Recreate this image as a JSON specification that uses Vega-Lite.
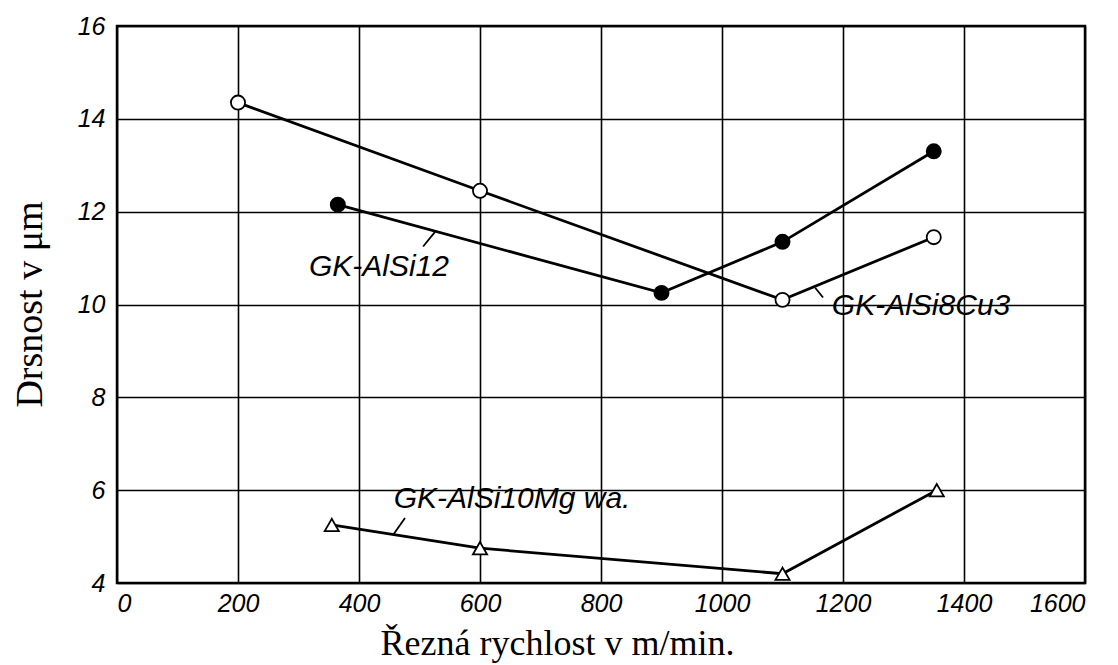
{
  "$schema": "https://vega.github.io/schema/vega-lite/v6.json",
  "width": 968,
  "height": 557,
  "autosize": {"type": "none"},
  "padding": {"left": 117, "top": 26, "right": 33, "bottom": 82},
  "background": "white",
  "config": {
    "view": {"stroke": "black", "strokeWidth": 2.5},
    "axis": {
      "labelFont": "Liberation Sans",
      "labelFontStyle": "italic",
      "labelFontSize": 25,
      "labelColor": "black",
      "ticks": false,
      "domain": false,
      "grid": true,
      "gridColor": "black",
      "gridWidth": 1.6,
      "gridOpacity": 1,
      "titleFont": "Liberation Serif",
      "titleFontSize": 38,
      "titleFontWeight": "normal",
      "titleColor": "black"
    }
  },
  "datasets": {
    "series": [
      {"alloy": "GK-AlSi8Cu3", "v": 200, "ra": 14.35},
      {"alloy": "GK-AlSi8Cu3", "v": 600, "ra": 12.45},
      {"alloy": "GK-AlSi8Cu3", "v": 1100, "ra": 10.1},
      {"alloy": "GK-AlSi8Cu3", "v": 1350, "ra": 11.45},
      {"alloy": "GK-AlSi12", "v": 365, "ra": 12.15},
      {"alloy": "GK-AlSi12", "v": 900, "ra": 10.25},
      {"alloy": "GK-AlSi12", "v": 1100, "ra": 11.35},
      {"alloy": "GK-AlSi12", "v": 1350, "ra": 13.3},
      {"alloy": "GK-AlSi10Mg wa.", "v": 355, "ra": 5.25},
      {"alloy": "GK-AlSi10Mg wa.", "v": 600, "ra": 4.75},
      {"alloy": "GK-AlSi10Mg wa.", "v": 1100, "ra": 4.2},
      {"alloy": "GK-AlSi10Mg wa.", "v": 1355, "ra": 6.0}
    ],
    "labels": [
      {"text": "GK-AlSi12", "x": 433, "y": 10.8},
      {"text": "GK-AlSi8Cu3", "x": 1329, "y": 9.97},
      {"text": "GK-AlSi10Mg wa.", "x": 653, "y": 5.8}
    ],
    "leaders": [
      {"x": 506, "y": 11.25, "x2": 526, "y2": 11.57},
      {"x": 1167, "y": 10.15, "x2": 1154, "y2": 10.36},
      {"x": 456, "y": 5.03, "x2": 476, "y2": 5.4}
    ]
  },
  "layer": [
    {
      "data": {"name": "series"},
      "mark": {"type": "line", "color": "black", "strokeWidth": 2.8},
      "encoding": {
        "x": {
          "field": "v", "type": "quantitative",
          "scale": {"domain": [0, 1600], "nice": false},
          "axis": {"values": [0, 200, 400, 600, 800, 1000, 1200, 1400, 1600], "format": "d", "labelPadding": 8, "title": "Řezná rychlost v m/min.", "titleX": 440, "titleY": 71, "titleBaseline": "alphabetic", "titleAlign": "center", "titleFontSize": 36}
        },
        "y": {
          "field": "ra", "type": "quantitative",
          "scale": {"domain": [4, 16], "nice": false, "zero": false},
          "axis": {"values": [4, 6, 8, 10, 12, 14, 16], "labelPadding": 12, "title": "Drsnost v μm", "titleX": -87, "titleY": 278, "titleBaseline": "middle", "titleAlign": "center", "titleAngle": 270}
        },
        "detail": {"field": "alloy"}
      }
    },
    {
      "data": {"name": "series"},
      "mark": {"type": "point", "stroke": "black", "strokeWidth": 1.8, "opacity": 1, "filled": false},
      "encoding": {
        "x": {"field": "v", "type": "quantitative"},
        "y": {"field": "ra", "type": "quantitative"},
        "shape": {"field": "alloy", "type": "nominal", "scale": {"domain": ["GK-AlSi8Cu3", "GK-AlSi12", "GK-AlSi10Mg wa."], "range": ["circle", "circle", "triangle-up"]}, "legend": null},
        "fill": {"field": "alloy", "type": "nominal", "scale": {"domain": ["GK-AlSi8Cu3", "GK-AlSi12", "GK-AlSi10Mg wa."], "range": ["white", "black", "white"]}, "legend": null},
        "size": {"value": 200}
      }
    },
    {
      "data": {"name": "leaders"},
      "mark": {"type": "rule", "color": "black", "strokeWidth": 1.8},
      "encoding": {
        "x": {"field": "x", "type": "quantitative"},
        "y": {"field": "y", "type": "quantitative"},
        "x2": {"field": "x2"},
        "y2": {"field": "y2"}
      }
    },
    {
      "data": {"name": "labels"},
      "mark": {"type": "text", "font": "Liberation Sans", "fontStyle": "italic", "fontSize": 30, "color": "black", "align": "center", "baseline": "middle"},
      "encoding": {
        "x": {"field": "x", "type": "quantitative"},
        "y": {"field": "y", "type": "quantitative"},
        "text": {"field": "text"}
      }
    }
  ]
}
